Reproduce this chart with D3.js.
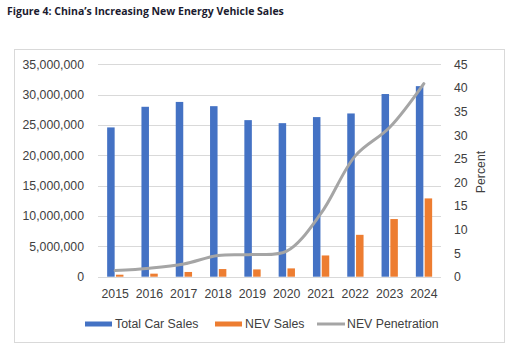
<!DOCTYPE html>
<html>
<head>
<meta charset="utf-8">
<script src="https://cdn.jsdelivr.net/npm/d3@7"></script>
<style>
  body { margin: 0; background: #fff; }
  svg { display: block; }
</style>
</head>
<body>
<div id="chart"></div>
<script>
// data
const years = ['2015', '2016', '2017', '2018', '2019', '2020', '2021', '2022', '2023', '2024'];
const totalSales = [24.6e6, 28.0e6, 28.8e6, 28.1e6, 25.8e6, 25.3e6, 26.3e6, 26.9e6, 30.1e6, 31.4e6];
const nevSales = [0.33e6, 0.5e6, 0.78e6, 1.26e6, 1.2e6, 1.37e6, 3.5e6, 6.9e6, 9.5e6, 12.9e6];
const penetration = [1.3, 1.8, 2.7, 4.5, 4.7, 5.4, 13.4, 25.6, 31.6, 40.9];
const leftTicks = [0, 5e6, 10e6, 15e6, 20e6, 25e6, 30e6, 35e6];
const rightTicks = [0, 5, 10, 15, 20, 25, 30, 35, 40, 45];

const W = 512, H = 350;
const blue = '#4472C4', orange = '#ED7D31', grey = '#A5A5A5';
const font = '"Liberation Sans", Arial, sans-serif';

const svg = d3.select('#chart').append('svg')
    .attr('width', W)
    .attr('height', H);

// title
svg.append('text')
    .attr('x', 7)
    .attr('y', 15)
    .attr('font-family', '"Open Sans", sans-serif')
    .attr('font-weight', 'bold')
    .attr('font-size', 10.5)
    .attr('fill', '#1b1b2f')
    .text('Figure 4: China\u2019s Increasing New Energy Vehicle Sales');

// chart frame
svg.append('rect')
    .attr('x', 14.5).attr('y', 49.5)
    .attr('width', 490).attr('height', 293)
    .attr('fill', 'none')
    .attr('stroke', '#D9D9D9');

const plot = {left: 98, right: 441, top: 64.3, bottom: 276.7};

const x = d3.scaleBand().domain(years).range([plot.left, plot.right]);
const yL = d3.scaleLinear().domain([0, 35e6]).range([plot.bottom, plot.top]);
const yR = d3.scaleLinear().domain([0, 45]).range([plot.bottom, plot.top]);

// gridlines
svg.append('g')
    .selectAll('line')
    .data(leftTicks)
    .join('line')
    .attr('x1', plot.left).attr('x2', plot.right)
    .attr('y1', d => Math.round(yL(d)) + 0.5)
    .attr('y2', d => Math.round(yL(d)) + 0.5)
    .attr('stroke', '#D9D9D9')
    .attr('stroke-width', 1);

// left axis
const axisL = svg.append('g')
    .attr('transform', `translate(${plot.left - 14},0)`)
    .call(d3.axisLeft(yL).tickValues(leftTicks).tickSize(0).tickPadding(0).tickFormat(d3.format(',')));
axisL.select('.domain').remove();

// right axis
const axisR = svg.append('g')
    .attr('transform', `translate(${plot.right + 13},0)`)
    .call(d3.axisRight(yR).tickValues(rightTicks).tickSize(0).tickPadding(0));
axisR.select('.domain').remove();

// bottom axis
const axisB = svg.append('g')
    .attr('transform', `translate(0,${plot.bottom + 9})`)
    .call(d3.axisBottom(x).tickSize(0).tickPadding(4));
axisB.select('.domain').remove();

svg.selectAll('.tick text')
    .attr('font-family', font)
    .attr('font-size', 12.3)
    .attr('fill', '#404040');

// Percent label
svg.append('text')
    .attr('transform', `translate(485,172) rotate(-90)`)
    .attr('text-anchor', 'middle')
    .attr('font-family', font)
    .attr('font-size', 12.3)
    .attr('fill', '#404040')
    .text('Percent');

const barW = 7.5;

svg.append('g')
    .selectAll('rect')
    .data(totalSales)
    .join('rect')
    .attr('x', (d, i) => x(years[i]) + x.bandwidth() / 2 - barW - 0.5)
    .attr('y', d => yL(d))
    .attr('width', barW)
    .attr('height', d => plot.bottom - yL(d))
    .attr('fill', blue);

svg.append('g')
    .selectAll('rect')
    .data(nevSales)
    .join('rect')
    .attr('x', (d, i) => x(years[i]) + x.bandwidth() / 2 + 0.8)
    .attr('y', d => yL(d))
    .attr('width', barW)
    .attr('height', d => plot.bottom - yL(d))
    .attr('fill', orange);

// penetration line
const line = d3.line()
    .x((d, i) => x(years[i]) + x.bandwidth() / 2)
    .y(d => yR(d))
    .curve(d3.curveCatmullRom.alpha(0.5));

svg.append('path')
    .datum(penetration)
    .attr('d', line)
    .attr('fill', 'none')
    .attr('stroke', grey)
    .attr('stroke-width', 3)
    .attr('stroke-linejoin', 'round')
    .attr('stroke-linecap', 'round');

// legend
const legendItems = [
    {label: 'Total Car Sales', color: blue, type: 'rect', x: 85},
    {label: 'NEV Sales', color: orange, type: 'rect', x: 215},
    {label: 'NEV Penetration', color: grey, type: 'line', x: 317}
];
const legendY = 324;
const lg = svg.append('g');
legendItems.forEach(item => {
    if (item.type === 'rect') {
        lg.append('rect')
            .attr('x', item.x).attr('y', legendY - 2.5)
            .attr('width', 27).attr('height', 5)
            .attr('fill', item.color);
    } else {
        lg.append('line')
            .attr('x1', item.x).attr('x2', item.x + 28)
            .attr('y1', legendY).attr('y2', legendY)
            .attr('stroke', item.color)
            .attr('stroke-width', 3);
    }
    lg.append('text')
        .attr('x', item.x + 30)
        .attr('y', legendY)
        .attr('dy', '0.35em')
        .attr('font-family', font)
        .attr('font-size', 12.3)
        .attr('fill', '#404040')
        .text(item.label);
});
</script>
</body>
</html>
